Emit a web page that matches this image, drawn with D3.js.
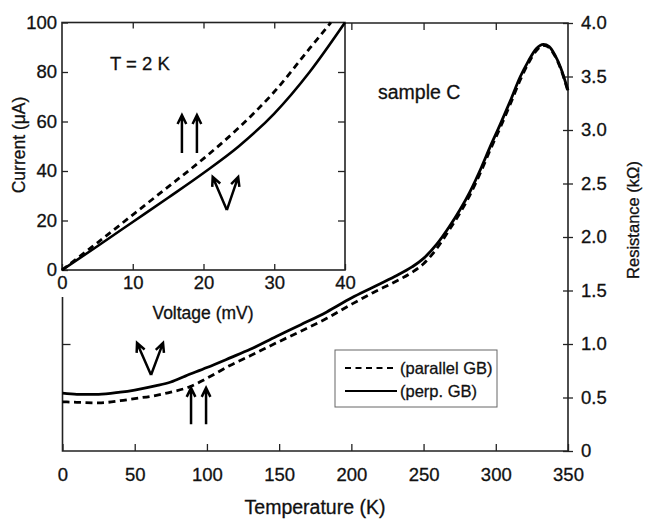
<!DOCTYPE html>
<html>
<head>
<meta charset="utf-8">
<script src="https://cdn.jsdelivr.net/npm/d3@7"></script>
<style>
  body { margin: 0; background: #fff; }
  svg text { font-family: "Liberation Sans", Arial, sans-serif; fill: #111; stroke: #111; stroke-width: 0.3; }
  .axis path { display: none; }
  .axis line { stroke: #222; stroke-width: 1.3; }
</style>
</head>
<body>
<svg id="chart" width="652" height="519"></svg>
<script>
/////////////////////
// Data
/////////////////////

// main plot: resistance (kOhm) vs temperature (K)
var tempPerp = [0, 10, 25, 40, 50, 65, 75, 85, 100, 116, 130, 148, 165, 183, 200, 215, 230, 242, 250, 259, 268, 275, 282, 290, 296, 303, 310, 317, 322, 328, 333, 337, 341, 345, 350];
var resPerp  = [0.54, 0.53, 0.53, 0.55, 0.57, 0.61, 0.645, 0.70, 0.78, 0.87, 0.95, 1.07, 1.18, 1.30, 1.43, 1.53, 1.63, 1.72, 1.80, 1.93, 2.10, 2.25, 2.42, 2.65, 2.84, 3.05, 3.27, 3.50, 3.63, 3.76, 3.80, 3.78, 3.70, 3.58, 3.37];

var tempPar = [0, 10, 25, 40, 50, 65, 75, 88, 100, 116, 130, 148, 165, 183, 200, 215, 230, 242, 250, 259, 268, 275, 282, 290, 296, 303, 310, 317, 322, 328, 333, 337, 341, 345, 350];
var resPar  = [0.46, 0.455, 0.45, 0.47, 0.49, 0.52, 0.55, 0.60, 0.68, 0.80, 0.89, 1.01, 1.12, 1.24, 1.37, 1.48, 1.58, 1.67, 1.75, 1.89, 2.07, 2.22, 2.39, 2.62, 2.81, 3.02, 3.24, 3.47, 3.61, 3.74, 3.79, 3.77, 3.69, 3.57, 3.36];

// inset: current (uA) vs voltage (mV) at T = 2 K
var voltPerp = [0, 5, 10, 15, 20, 25, 30, 35, 40];
var curPerp  = [0, 9.6, 19.4, 29.2, 39.2, 50, 63.2, 80, 100];

var voltPar = [0, 5, 10, 15, 20, 25, 30, 35, 38];
var curPar  = [0, 11, 22.3, 33.6, 45, 57.5, 72, 89.5, 100];

var tempTicks = [0, 50, 100, 150, 200, 250, 300, 350];
var resTicks = [0, 0.5, 1, 1.5, 2, 2.5, 3, 3.5, 4];
var voltTicks = [0, 10, 20, 30, 40];
var curTicks = [0, 20, 40, 60, 80, 100];

var legendLabels = ["(parallel GB)", "(perp. GB)"];

var svg = d3.select("#chart");

/////////////////////
// Main plot
/////////////////////

var x = d3.scaleLinear().domain([0, 350]).range([62.5, 568]);
var y = d3.scaleLinear().domain([0, 4]).range([451, 23]);

// bottom axis, ticks inward
svg.append("g")
    .attr("class", "axis")
    .attr("transform", "translate(0,451)")
    .call(d3.axisBottom(x).tickValues(tempTicks).tickSizeInner(-7).tickSizeOuter(0).tickPadding(17))
    .call(g => g.selectAll("text").attr("font-size", 18.5));

// top ticks
svg.append("g")
    .attr("class", "axis")
    .attr("transform", "translate(0,23)")
    .call(d3.axisTop(x).tickValues(tempTicks.slice(1, -1)).tickSizeInner(-7).tickSizeOuter(0).tickFormat(""));

// right axis, ticks across the line
svg.append("g")
    .attr("class", "axis")
    .attr("transform", "translate(568,0)")
    .call(d3.axisRight(y).tickValues(resTicks).tickSizeInner(5).tickSizeOuter(0).tickPadding(8)
        .tickFormat(d => d === 0 ? "0" : d3.format(".1f")(d)))
    .call(g => g.selectAll(".tick line").attr("x1", -5))
    .call(g => g.selectAll("text").attr("font-size", 18.5));

// left ticks (no labels)
svg.append("g")
    .attr("class", "axis")
    .attr("transform", "translate(62.5,0)")
    .call(d3.axisLeft(y).tickValues([1, 2, 3]).tickSizeInner(-8).tickSizeOuter(0).tickFormat(""));

// frame
var frame = svg.append("g").attr("stroke", "#222").attr("stroke-width", 1.6).attr("fill", "none");
frame.append("path").attr("d", d3.line()([[x(0), 297], [x(0), y(0)], [x(350), y(0)], [x(350), y(4)], [345, y(4)]]));

// curves
var lineMain = d3.line()
    .x(d => x(d[0]))
    .y(d => y(d[1]))
    .curve(d3.curveMonotoneX);

svg.append("path")
    .datum(d3.zip(tempPar, resPar))
    .attr("d", lineMain)
    .attr("fill", "none")
    .attr("stroke", "#000")
    .attr("stroke-width", 2.8)
    .attr("stroke-dasharray", "7,4.5");

svg.append("path")
    .datum(d3.zip(tempPerp, resPerp))
    .attr("d", lineMain)
    .attr("fill", "none")
    .attr("stroke", "#000")
    .attr("stroke-width", 2.8);

svg.append("text")
    .attr("x", 378)
    .attr("y", 99)
    .attr("font-size", 19.5)
    .text("sample C");

// axis titles
svg.append("text")
    .attr("x", 315)
    .attr("y", 514)
    .attr("text-anchor", "middle")
    .attr("font-size", 19.5)
    .text("Temperature (K)");

svg.append("text")
    .attr("transform", "translate(639,220) rotate(-90)")
    .attr("text-anchor", "middle")
    .attr("font-size", 16.5)
    .text("Resistance (kΩ)");

// legend
var legend = svg.append("g").attr("transform", "translate(335,350)");
legend.append("rect")
    .attr("width", 162)
    .attr("height", 57)
    .attr("fill", "#fff")
    .attr("stroke", "#666")
    .attr("stroke-width", 1);

var legendItem = legend.selectAll(".item")
    .data(legendLabels)
  .enter().append("g")
    .attr("class", "item")
    .attr("transform", (d, i) => "translate(0," + (18 + i * 23) + ")");

legendItem.append("line")
    .attr("x1", 10)
    .attr("x2", 62)
    .attr("stroke", "#000")
    .attr("stroke-width", 2.2)
    .attr("stroke-dasharray", (d, i) => i === 0 ? "6,4.5" : null);

legendItem.append("text")
    .attr("x", 65)
    .attr("dy", "0.36em")
    .attr("font-size", 16.5)
    .text(d => d);

/////////////////////
// Arrows
/////////////////////

function arrow(g, x0, y0, x1, y1) {
    var ang = Math.atan2(y1 - y0, x1 - x0);
    var h = 10, spread = 0.45;
    g.append("path")
        .attr("d", "M" + x0 + "," + y0 + "L" + x1 + "," + y1 +
            "M" + (x1 - h * Math.cos(ang - spread)) + "," + (y1 - h * Math.sin(ang - spread)) +
            "L" + x1 + "," + y1 +
            "L" + (x1 - h * Math.cos(ang + spread)) + "," + (y1 - h * Math.sin(ang + spread)))
        .attr("fill", "none")
        .attr("stroke", "#000")
        .attr("stroke-width", 2.5);
}

var arrowsMain = svg.append("g");
arrow(arrowsMain, x(89), y(0.25), x(89), y(0.59));
arrow(arrowsMain, x(99.4), y(0.25), x(99.4), y(0.59));
arrow(arrowsMain, x(61.3), y(0.71), x(51.6), y(1.01));
arrow(arrowsMain, x(61.3), y(0.71), x(69.6), y(1.01));

/////////////////////
// Inset
/////////////////////

svg.append("rect")
    .attr("x", 0).attr("y", 0)
    .attr("width", 345).attr("height", 297)
    .attr("fill", "#fff");

var xi = d3.scaleLinear().domain([0, 40]).range([62, 345]);
var yi = d3.scaleLinear().domain([0, 100]).range([270, 22.5]);

svg.append("g")
    .attr("class", "axis")
    .attr("transform", "translate(0,270)")
    .call(d3.axisBottom(xi).tickValues(voltTicks).tickSizeInner(-6).tickSizeOuter(0).tickPadding(6))
    .call(g => g.selectAll("text").attr("font-size", 18.5));

svg.append("g")
    .attr("class", "axis")
    .attr("transform", "translate(0,22.5)")
    .call(d3.axisTop(xi).tickValues(voltTicks.slice(1, -1)).tickSizeInner(-6).tickSizeOuter(0).tickFormat(""));

svg.append("g")
    .attr("class", "axis")
    .attr("transform", "translate(62,0)")
    .call(d3.axisLeft(yi).tickValues(curTicks).tickSizeInner(-6).tickSizeOuter(0).tickPadding(5))
    .call(g => g.selectAll("text").attr("font-size", 18.5));

svg.append("g")
    .attr("class", "axis")
    .attr("transform", "translate(345,0)")
    .call(d3.axisRight(yi).tickValues(curTicks.slice(1, -1)).tickSizeInner(-7).tickSizeOuter(0).tickFormat(""));

svg.append("rect")
    .attr("x", xi(0)).attr("y", yi(100))
    .attr("width", xi(40) - xi(0)).attr("height", yi(0) - yi(100))
    .attr("fill", "none")
    .attr("stroke", "#222")
    .attr("stroke-width", 1.6);

var lineInset = d3.line()
    .x(d => xi(d[0]))
    .y(d => yi(d[1]))
    .curve(d3.curveMonotoneX);

svg.append("path")
    .datum(d3.zip(voltPar, curPar))
    .attr("d", lineInset)
    .attr("fill", "none")
    .attr("stroke", "#000")
    .attr("stroke-width", 2.8)
    .attr("stroke-dasharray", "6.5,4.5");

svg.append("path")
    .datum(d3.zip(voltPerp, curPerp))
    .attr("d", lineInset)
    .attr("fill", "none")
    .attr("stroke", "#000")
    .attr("stroke-width", 2.6);

svg.append("text")
    .attr("x", 110)
    .attr("y", 70)
    .attr("font-size", 18.5)
    .text("T = 2 K");

svg.append("text")
    .attr("x", 203)
    .attr("y", 319)
    .attr("text-anchor", "middle")
    .attr("font-size", 17.5)
    .text("Voltage (mV)");

svg.append("text")
    .attr("transform", "translate(25,145) rotate(-90)")
    .attr("text-anchor", "middle")
    .attr("font-size", 17.5)
    .text("Current (μA)");

var arrowsInset = svg.append("g");
arrow(arrowsInset, xi(16.95), yi(47.3), xi(16.95), yi(62.6));
arrow(arrowsInset, xi(19.07), yi(47.3), xi(19.07), yi(62.6));
arrow(arrowsInset, xi(23.3), yi(24.2), xi(21.3), yi(37.6));
arrow(arrowsInset, xi(23.3), yi(24.2), xi(24.9), yi(37.6));
</script>
</body>
</html>
